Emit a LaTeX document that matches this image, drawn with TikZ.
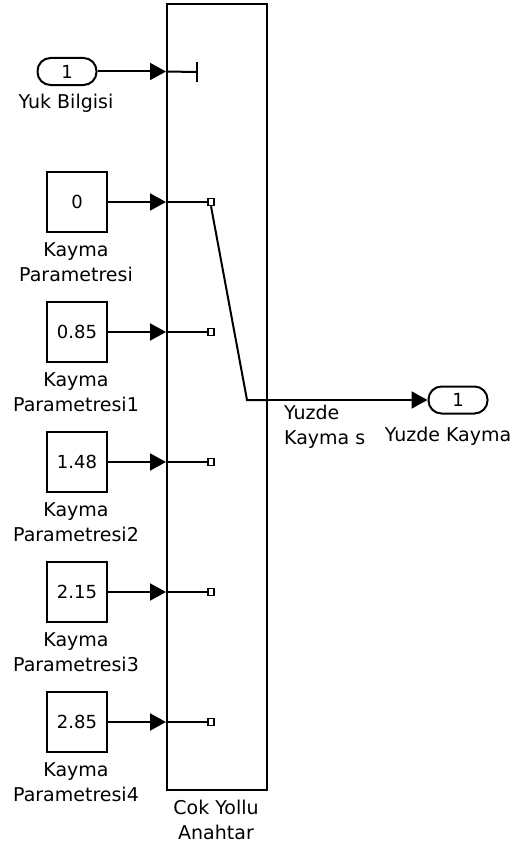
\documentclass[tikz,border=0pt]{standalone}
\usepackage{fontspec}
\setmainfont{DejaVu Sans}
\usetikzlibrary{arrows.meta}
\begin{document}
\begin{tikzpicture}[x=1pt,y=-1pt,
  blk/.style={draw,line width=2pt,inner sep=0pt},
  cst/.style={blk,minimum width=60pt,minimum height=60pt,font=\fontsize{18}{20}\selectfont},
  port/.style={blk,rounded corners=13pt,minimum width=59pt,minimum height=27pt,font=\fontsize{18}{20}\selectfont},
  sq/.style={draw,line width=1.5pt,minimum width=6pt,minimum height=7pt,inner sep=0pt},
  lbl/.style={align=center,font=\fontsize{19}{25}\selectfont,inner sep=0pt},
  sig/.style={line width=2pt,-{Triangle[length=16pt,width=17pt]}},
  wire/.style={line width=2pt}]
\useasboundingbox (0,0) rectangle (516,851);
% main switch block
\node[blk,minimum width=100pt,minimum height=786pt] (sw) at (217,397) {};
\node[lbl] (swl) at (216,820) {Cok Yollu\\Anahtar};
% inport
\node[port] (in1) at (67,71.5) {1};
\node[lbl] (in1l) at (66,103) {Yuk Bilgisi};
\coordinate (tick) at (197,72);
\draw[sig] (in1.east) -- (in1.east -| sw.west);
\draw[wire] (in1.east -| sw.west) -- (tick);
\draw[wire] ([yshift=-10pt]tick) -- ([yshift=10pt]tick);
% constants
\foreach \i/\v/\y/\s in {0/0/202/,1/0.85/332/1,2/1.48/462/2,3/2.15/592/3,4/2.85/722/4}{
  \node[cst] (c\i) at (77,\y) {\v};
  \node[lbl] (c\i l) at (76,\y+60) {Kayma\\Parametresi\s};
  \node[sq] (sq\i) at (211,\y) {};
  \draw[sig] (c\i.east) -- (c\i.east -| sw.west);
  \draw[wire] (c\i.east -| sw.west) -- (sq\i.west);
}
% switch arm and output
\coordinate (bend) at (247,400);
\draw[wire] (sq0.south) -- (bend) -- (bend -| sw.east);
\node[port] (out) at (458,400) {1};
\draw[sig] (bend -| sw.east) -- (out.west);
\node[lbl,align=left,anchor=west] (sigl) at (284,427) {Yuzde\\Kayma s};
\node[lbl] (outl) at (448,436) {Yuzde Kayma};
\end{tikzpicture}
\end{document}
